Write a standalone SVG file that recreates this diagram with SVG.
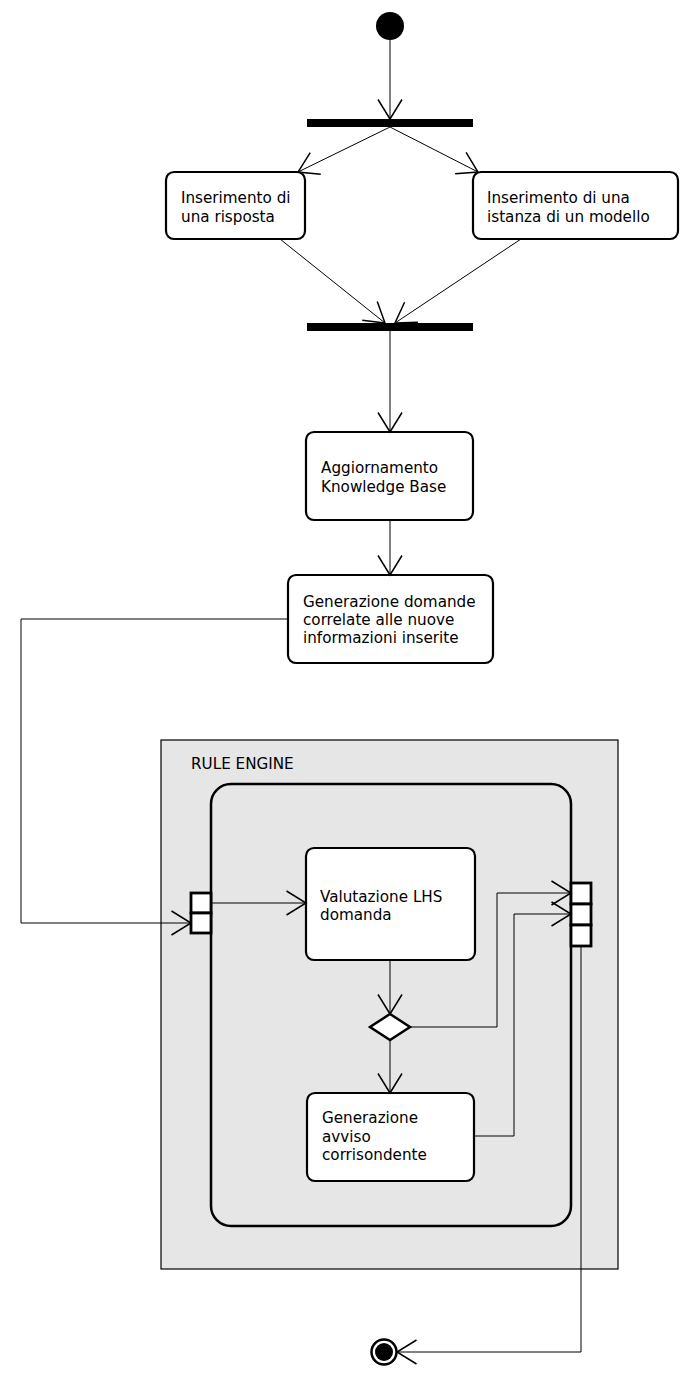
<svg xmlns="http://www.w3.org/2000/svg" width="690" height="1380" viewBox="0 0 690 1380">
<style>
.node{fill:#fff;stroke:#000;stroke-width:2.2}
.bar{fill:#000}
.pin{fill:#fff;stroke:#000;stroke-width:2.8}
.t{font-family:"DejaVu Sans",sans-serif;font-size:15.2px;fill:#000}
.c{fill:none;stroke:#000;stroke-width:1}
</style>
<defs>
<marker id="arr" markerUnits="userSpaceOnUse" markerWidth="30" markerHeight="30" viewBox="-15 -10 17 20" refX="0" refY="0" orient="auto">
<path d="M-13,-8 L0,0 L-13,8" fill="none" stroke="#000" stroke-width="1"/>
</marker>
</defs>
<rect id="rule-engine" x="161" y="740" width="457" height="529" fill="#e6e6e6" stroke="#000" stroke-width="1.2"/>
<text class="t" x="191" y="769">RULE ENGINE</text>
<g id="rule-engine-activity">
<rect x="211" y="784" width="360" height="442" rx="20" fill="#e6e6e6" stroke="#000" stroke-width="2.5"/>
</g>
<g id="start"><circle cx="390" cy="26" r="14" fill="#000"/></g>
<g id="fork"><rect class="bar" x="307" y="119" width="166" height="8"/></g>
<g id="join"><rect class="bar" x="307" y="323" width="166" height="8"/></g>
<g id="inserimento-risposta">
<rect class="node" x="166" y="172" width="139" height="67" rx="8"/>
<text class="t" x="181" y="203">Inserimento di</text>
<text class="t" x="181" y="222">una risposta</text>
</g>
<g id="inserimento-istanza">
<rect class="node" x="473" y="172" width="205" height="67" rx="8"/>
<text class="t" x="487" y="203">Inserimento di una</text>
<text class="t" x="487" y="222">istanza di un modello</text>
</g>
<g id="aggiornamento">
<rect class="node" x="306" y="432" width="167" height="88" rx="8"/>
<text class="t" x="321" y="473">Aggiornamento</text>
<text class="t" x="321" y="492">Knowledge Base</text>
</g>
<g id="generazione-domande">
<rect class="node" x="288" y="575" width="205" height="88" rx="8"/>
<text class="t" x="303" y="607">Generazione domande</text>
<text class="t" x="303" y="625">correlate alle nuove</text>
<text class="t" x="303" y="643">informazioni inserite</text>
</g>
<g id="valutazione">
<rect class="node" x="306" y="848" width="169" height="112" rx="8"/>
<text class="t" x="320" y="902">Valutazione LHS</text>
<text class="t" x="320" y="920">domanda</text>
</g>
<g id="decisione"><polygon points="390,1014 410,1027 390,1040 370,1027" fill="#fff" stroke="#000" stroke-width="2.5"/></g>
<g id="generazione-avviso">
<rect class="node" x="307" y="1093" width="167" height="88" rx="8"/>
<text class="t" x="322" y="1123">Generazione</text>
<text class="t" x="322" y="1142">avviso</text>
<text class="t" x="322" y="1160">corrisondente</text>
</g>
<g id="pins-in">
<rect class="pin" x="191" y="893" width="20" height="20"/>
<rect class="pin" x="191" y="913" width="20" height="20"/>
</g>
<g id="pins-out">
<rect class="pin" x="571" y="883" width="20" height="21"/>
<rect class="pin" x="571" y="904" width="20" height="21"/>
<rect class="pin" x="571" y="925" width="20" height="21"/>
</g>
<g id="end">
<circle cx="384" cy="1352" r="12.5" fill="#fff" stroke="#000" stroke-width="2.5"/>
<circle cx="384" cy="1352" r="9" fill="#000"/>
</g>
<g id="connectors">
<path class="c" d="M390,40 L390,119" marker-end="url(#arr)"/>
<path class="c" d="M390,127 L298,172" marker-end="url(#arr)"/>
<path class="c" d="M390,127 L478,172" marker-end="url(#arr)"/>
<path class="c" d="M280,239 L385,323" marker-end="url(#arr)"/>
<path class="c" d="M521,239 L395,323" marker-end="url(#arr)"/>
<path class="c" d="M390,331 L390,432" marker-end="url(#arr)"/>
<path class="c" d="M390,520 L390,575" marker-end="url(#arr)"/>
<path class="c" d="M288,619 L21,619 L21,923 L191,923" marker-end="url(#arr)"/>
<path class="c" d="M211,903 L306,903" marker-end="url(#arr)"/>
<path class="c" d="M390,960 L390,1014" marker-end="url(#arr)"/>
<path class="c" d="M390,1040 L390,1093" marker-end="url(#arr)"/>
<path class="c" d="M410,1027 L497,1027 L497,893 L571,893" marker-end="url(#arr)"/>
<path class="c" d="M474,1136 L514,1136 L514,914 L571,914" marker-end="url(#arr)"/>
<path class="c" d="M581,946 L581,1352 L397,1352" marker-end="url(#arr)"/>
</g>
</svg>
